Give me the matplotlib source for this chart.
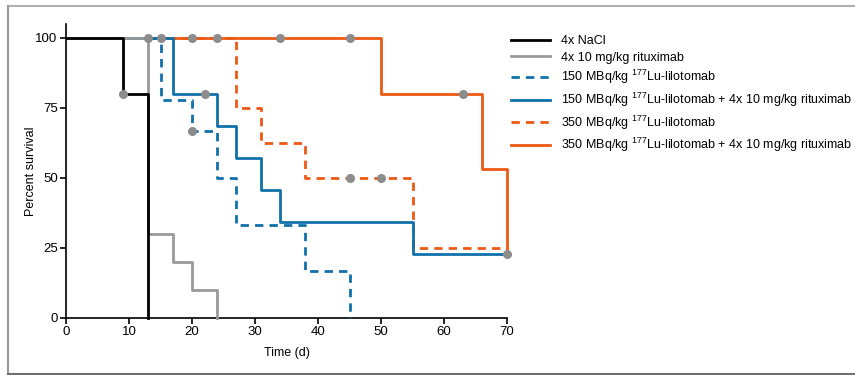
import matplotlib
matplotlib.use("Agg")
import matplotlib.pyplot as plt
from matplotlib.lines import Line2D

plt.rcParams['font.family'] = ['Liberation Sans', 'DejaVu Sans']
plt.rcParams['mathtext.default'] = 'regular'

# survival curves (time in days, percent survival)
labels = [
    "4x NaCl",
    "4x 10 mg/kg rituximab",
    "150 MBq/kg $^{177}$Lu-lilotomab",
    "150 MBq/kg $^{177}$Lu-lilotomab + 4x 10 mg/kg rituximab",
    "350 MBq/kg $^{177}$Lu-lilotomab",
    "350 MBq/kg $^{177}$Lu-lilotomab + 4x 10 mg/kg rituximab",
]
nacl_t = [0, 9, 13]
nacl_s = [100, 80, 0]
rit_t = [0, 13, 17, 20, 24]
rit_s = [100, 30, 20, 10, 0]
lu150_t = [0, 15, 20, 24, 27, 38, 45]
lu150_s = [100, 77.8, 66.7, 50, 33.3, 16.7, 0]
lu150r_t = [0, 17, 24, 27, 31, 34, 55, 70]
lu150r_s = [100, 80, 68.6, 57.1, 45.7, 34.3, 22.9, 22.9]
lu350_t = [0, 27, 31, 38, 55, 70]
lu350_s = [100, 75, 62.5, 50, 25, 25]
lu350r_t = [0, 50, 66, 70]
lu350r_s = [100, 80, 53.3, 22.9]

# censored observations
cens_t = [9, 13, 15, 20, 22, 70, 20, 24, 45, 50, 34, 45, 63]
cens_s = [80, 100, 100, 66.7, 80, 22.9, 100, 100, 50, 50, 100, 100, 80]

black = "#000000"
gray = "#999999"
blue = "#1170aa"
orange = "#ec5a14"

fig = plt.figure(figsize=(8.55, 3.75), dpi=100)
ax = fig.add_axes([66 / 855, 1 - 318 / 375, 441 / 855, 294 / 375])

series = [
    (nacl_t, nacl_s, black, "-", 6),
    (rit_t, rit_s, gray, "-", 5),
    (lu150_t, lu150_s, blue, (0, (3, 2.2)), 3),
    (lu150r_t, lu150r_s, blue, "-", 4),
    (lu350_t, lu350_s, orange, (0, (3, 2.2)), 2),
    (lu350r_t, lu350r_s, orange, "-", 1),
]
for (t, s, c, ls, z), lab in zip(series, labels):
    ax.step(t, s, where="post", color=c, linestyle=ls, linewidth=2.0,
            zorder=z, label=lab, clip_on=False)

ax.plot(cens_t, cens_s, "o", color="#8c8c8c", markersize=5.5, zorder=10,
        clip_on=False)

ax.set_xlim(0, 70)
ax.set_ylim(0, 105)
ax.set_xticks(range(0, 71, 10))
ax.set_yticks([0, 25, 50, 75, 100])
for sp in ["top", "right"]:
    ax.spines[sp].set_visible(False)
for sp in ["left", "bottom"]:
    ax.spines[sp].set_linewidth(1.2)
ax.tick_params(labelsize=9.5, length=4, width=1.2, pad=2)
ax.set_xlabel("Time (d)", fontsize=9, labelpad=6)
ax.set_ylabel("Percent survival", fontsize=9, labelpad=-1)

ax.legend(loc="upper left", bbox_to_anchor=(506 / 855, 1 - 30 / 375),
          bbox_transform=fig.transFigure, frameon=False, fontsize=9,
          handlelength=3.1, handletextpad=0.9, labelspacing=0.36,
          borderaxespad=0)

# frame around the figure (no right edge)
fx0, fy0, fy1 = 8 / 855, 1 - 374 / 375, 1 - 6 / 375
fig.lines.append(Line2D([fx0, 1], [fy1, fy1], transform=fig.transFigure,
                        color="#b0b0b0", linewidth=1.5))
fig.lines.append(Line2D([fx0, fx0], [fy0, fy1], transform=fig.transFigure,
                        color="#9a9a9a", linewidth=1.5))
fig.lines.append(Line2D([fx0, 1], [fy0, fy0], transform=fig.transFigure,
                        color="#707070", linewidth=1.5))

fig.savefig("out.png", dpi=100)
